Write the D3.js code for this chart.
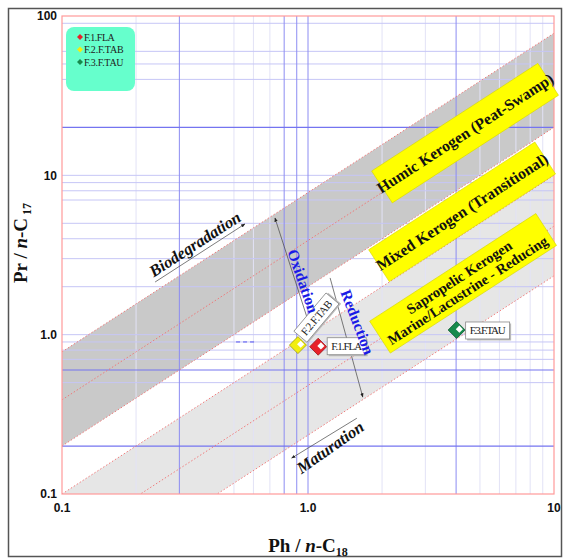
<!DOCTYPE html>
<html><head><meta charset="utf-8">
<script src="https://cdn.jsdelivr.net/npm/d3@7"></script>
<style>body{margin:0;background:#fff}</style>
</head><body><svg id="c" width="566" height="560"></svg>
<script>
// ---- data ----
const samples = ["F.1.FLA", "F.2.F.TAB", "F.3.F.TAU"];
const phC18 = [1.10, 0.91, 4.02];
const prC17 = [0.84, 0.86, 1.07];
const sampleColors = ["#e8202a", "#f2ee10", "#178a4c"];
const xTicks = [0.1, 1, 10];
const xTickLabels = ["0.1", "1.0", "10"];
const yTicks = [0.1, 1, 10, 100];
const yTickLabels = ["0.1", "1.0", "10", "100"];
const xGridStrong = [0.3, 0.8, 0.9, 1, 4];
const xGridFaint = [0.2, 0.5, 0.6, 0.7, 2, 3, 5, 6, 7, 8, 9];
const yGridStrong = [0.2, 0.6, 20];
const yGridMedium = [0.5, 0.7, 0.8, 0.9, 1, 2, 3, 4, 5, 7, 8, 9, 10, 40, 50, 60, 90];
// kerogen fields: Pr/nC17 = k * Ph/nC18
const bandUpper = [7.8, 1.0];
const bandLower = [2.0, 0.234];
const bandFills = ["#c9c9c9", "#e6e6e6"];
const dottedRatios = [7.8, 3.9, 2.0, 1.0, 0.48, 0.234];
const kerogenLabels = [["Humic Kerogen  (Peat-Swamp)"], ["Mixed Kerogen (Transitional)"], ["Sapropelic Kerogen", "Marine/Lacustrine - Reducing"]];
const kerogenX = [4.35, 4.23, 4.27];
const kerogenY = [18.4, 5.9, 2.10];
// process arrows [x1,y1,x2,y2] in data units
const procNames = ["Biodegradation", "Oxidation", "Reduction", "Maturation"];
const procArrows = [[0.239, 2.14, 0.554, 4.95], [0.988, 1.30, 0.734, 5.40], [1.23, 2.27, 1.67, 0.406], [1.58, 0.299, 0.858, 0.168]];
const procTextX = [0.347, 0.955, 1.59, 1.23];
const procTextY = [3.71, 2.17, 1.2, 0.197];

// ---- setup ----
const svg = d3.select("#c");
const L = 62, R = 554, T = 16, B = 494;
const x = d3.scaleLog().domain([0.1, 10]).range([L, R]);
const y = d3.scaleLog().domain([0.1, 100]).range([B, T]);
const ang = Math.atan2(y(1) - y(10), x(10) - x(1)) * 180 / Math.PI;

const defs = svg.append("defs");
defs.append("clipPath").attr("id", "clip").append("rect").attr("x", L).attr("y", T).attr("width", R - L).attr("height", B - T);
const mk = defs.append("marker").attr("id", "ah").attr("viewBox", "0 0 10 10").attr("refX", 9).attr("refY", 5)
  .attr("markerWidth", 6).attr("markerHeight", 6).attr("orient", "auto");
mk.append("path").attr("d", "M0,1L10,5L0,9Z").attr("fill", "#222");

// outer frame
svg.append("rect").attr("x", 8.5).attr("y", 8.5).attr("width", 553).attr("height", 548)
  .attr("fill", "none").attr("stroke", "#555").attr("stroke-width", 1.5);

const plot = svg.append("g").attr("clip-path", "url(#clip)");

// bands
const xd = x.domain();
bandUpper.forEach((ku, i) => {
  const kl = bandLower[i];
  const pts = [[xd[0], ku * xd[0]], [xd[1], ku * xd[1]], [xd[1], kl * xd[1]], [xd[0], kl * xd[0]]];
  plot.append("path").attr("d", "M" + pts.map(p => [x(p[0]), y(p[1])].join(",")).join("L") + "Z")
    .attr("fill", bandFills[i]);
});

// grid
plot.selectAll(".gxf").data(xGridFaint).enter().append("line")
  .attr("x1", d => x(d)).attr("x2", d => x(d)).attr("y1", T).attr("y2", B)
  .attr("stroke", "#e2e2f6").attr("stroke-width", 1);
plot.selectAll(".gym").data(yGridMedium).enter().append("line")
  .attr("y1", d => y(d)).attr("y2", d => y(d)).attr("x1", L).attr("x2", R)
  .attr("stroke", "#c6c6f6").attr("stroke-width", 1);
plot.selectAll(".gxs").data(xGridStrong).enter().append("line")
  .attr("x1", d => x(d)).attr("x2", d => x(d)).attr("y1", T).attr("y2", B)
  .attr("stroke", "#8c8cf2").attr("stroke-width", 1);
plot.selectAll(".gys").data(yGridStrong).enter().append("line")
  .attr("y1", d => y(d)).attr("y2", d => y(d)).attr("x1", L).attr("x2", R)
  .attr("stroke", "#7474f0").attr("stroke-width", 1.2);
// small dashed segment
plot.append("line").attr("x1", x(0.51)).attr("x2", x(0.61)).attr("y1", y(0.9)).attr("y2", y(0.9))
  .attr("stroke", "#5555ee").attr("stroke-width", 1).attr("stroke-dasharray", "4,3");

// dotted red ratio lines
plot.selectAll(".dr").data(dottedRatios).enter().append("line")
  .attr("x1", x(xd[0])).attr("y1", d => y(d * xd[0])).attr("x2", x(xd[1])).attr("y2", d => y(d * xd[1]))
  .attr("stroke", "#f07070").attr("stroke-width", 0.9).attr("stroke-dasharray", "1.5,2");

// plot border
svg.append("rect").attr("x", L).attr("y", T).attr("width", R - L).attr("height", B - T)
  .attr("fill", "none").attr("stroke", "#ff9a9a").attr("stroke-width", 1.2);

// kerogen boxes
const serif = "'Liberation Serif','DejaVu Serif',serif";
kerogenLabels.forEach((lines, i) => {
  const g = svg.append("g").attr("transform", `translate(${x(kerogenX[i])},${y(kerogenY[i])}) rotate(${-ang})`);
  g.append("rect").attr("x", -99).attr("y", -19).attr("width", 198).attr("height", 38)
    .attr("fill", "#ffff00").attr("stroke", "#d8d800").attr("stroke-width", 0.6);
  lines.forEach((t, j) => {
    g.append("text").attr("x", 0).attr("y", (j - (lines.length - 1) / 2) * 15.5 + 5.5)
      .attr("text-anchor", "middle").attr("font-family", serif).attr("font-weight", "bold")
      .attr("font-size", lines.length > 1 ? 14.5 : 15.8).attr("fill", "#111").text(t);
  });
});

// process arrows
procArrows.forEach(a => {
  svg.append("line").attr("x1", x(a[0])).attr("y1", y(a[1])).attr("x2", x(a[2])).attr("y2", y(a[3]))
    .attr("stroke", "#444").attr("stroke-width", 0.7).attr("marker-end", "url(#ah)");
});

// markers
function diamond(g, cx, cy, r, color) {
  g.append("path").attr("d", `M${cx},${cy - r}L${cx + r},${cy}L${cx},${cy + r}L${cx - r},${cy}Z`)
    .attr("fill", color).attr("stroke", d3.color(color).darker(1.2)).attr("stroke-width", 0.8);
  const s = r * 0.42, nx = cx + r * 0.32, ny = cy - r * 0.1;
  g.append("path").attr("d", `M${nx},${ny - s}L${nx + s},${ny}L${nx},${ny + s}L${nx - s},${ny}Z`).attr("fill", "#fff");
}
const pts = svg.append("g");
samples.forEach((s, i) => diamond(pts, x(phC18[i]), y(prC17[i]), 8.5, sampleColors[i]));

// point labels
function labelBox(cx, cy, rot, dx, dy, w, t) {
  const g = svg.append("g").attr("transform", `translate(${cx},${cy}) rotate(${rot}) translate(${dx},${dy})`);
  g.append("rect").attr("x", 1.5).attr("y", 1.5).attr("width", w).attr("height", 17).attr("fill", "#bbb");
  g.append("rect").attr("x", 0).attr("y", 0).attr("width", w).attr("height", 17).attr("fill", "#fff")
    .attr("stroke", "#888").attr("stroke-width", 0.8);
  g.append("text").attr("x", w / 2).attr("y", 12.5).attr("text-anchor", "middle").attr("font-family", serif)
    .attr("font-size", 11).attr("fill", "#222").attr("textLength", w - 8).text(t);
}
labelBox(x(phC18[0]), y(prC17[0]), 0, 9, -9, 39, samples[0]);
labelBox(x(phC18[1]), y(prC17[1]), -50, 8, -12, 50, samples[1]);
labelBox(x(phC18[2]), y(prC17[2]), 0, 9, -8, 44, samples[2]);

// process texts (on top)
const procRot = [-ang, 71, 69, -ang - 2];
const procColor = ["#111", "#1a1ae6", "#1a1ae6", "#111"];
const procItalic = [true, false, false, true];
const procSize = [16.5, 15.5, 15.5, 16.5];
procNames.forEach((n, i) => {
  svg.append("text").attr("transform", `translate(${x(procTextX[i])},${y(procTextY[i])}) rotate(${procRot[i]})`)
    .attr("text-anchor", "middle").attr("dy", "0.35em").attr("font-family", serif).attr("font-weight", "bold")
    .attr("font-style", procItalic[i] ? "italic" : "normal").attr("font-size", procSize[i]).attr("fill", procColor[i]).text(n);
});

// legend
const lg = svg.append("g");
lg.append("rect").attr("x", 66).attr("y", 27).attr("width", 69).attr("height", 64).attr("rx", 8).attr("fill", "#66ffcc");
samples.forEach((s, i) => {
  const yy = 37 + i * 12.5;
  lg.append("path").attr("d", `M80,${yy - 3}L83,${yy}L80,${yy + 3}L77,${yy}Z`).attr("fill", sampleColors[i]);
  lg.append("text").attr("x", 84).attr("y", yy + 3.5).attr("font-family", serif).attr("font-size", 10)
    .attr("fill", "#222").attr("textLength", s.length * 4.4).text(s);
});

// tick labels
const sans = "'Liberation Sans',Arial,sans-serif";
yTicks.forEach((v, i) => {
  svg.append("text").attr("x", L - 5).attr("y", y(v)).attr("dy", "0.35em").attr("text-anchor", "end")
    .attr("font-family", sans).attr("font-weight", "bold").attr("font-size", 12).attr("fill", "#111").text(yTickLabels[i]);
});
xTicks.forEach((v, i) => {
  svg.append("text").attr("x", x(v)).attr("y", B + 18).attr("text-anchor", "middle")
    .attr("font-family", sans).attr("font-weight", "bold").attr("font-size", 12).attr("fill", "#111").text(xTickLabels[i]);
});

// axis titles
const xt = svg.append("text").attr("x", (L + R) / 2).attr("y", 552).attr("text-anchor", "middle")
  .attr("font-family", serif).attr("font-weight", "bold").attr("font-size", 19).attr("fill", "#111");
xt.append("tspan").text("Ph / ");
xt.append("tspan").attr("font-style", "italic").text("n");
xt.append("tspan").text("-C");
xt.append("tspan").attr("font-size", 12).attr("dy", 4).text("18");

const yt = svg.append("text").attr("transform", `translate(27,${(T + B) / 2 - 12}) rotate(-90)`).attr("text-anchor", "middle")
  .attr("font-family", serif).attr("font-weight", "bold").attr("font-size", 19).attr("fill", "#111");
yt.append("tspan").text("Pr / ");
yt.append("tspan").attr("font-style", "italic").text("n");
yt.append("tspan").text("-C");
yt.append("tspan").attr("font-size", 12).attr("dy", 4).text(" 17");
</script></body></html>
